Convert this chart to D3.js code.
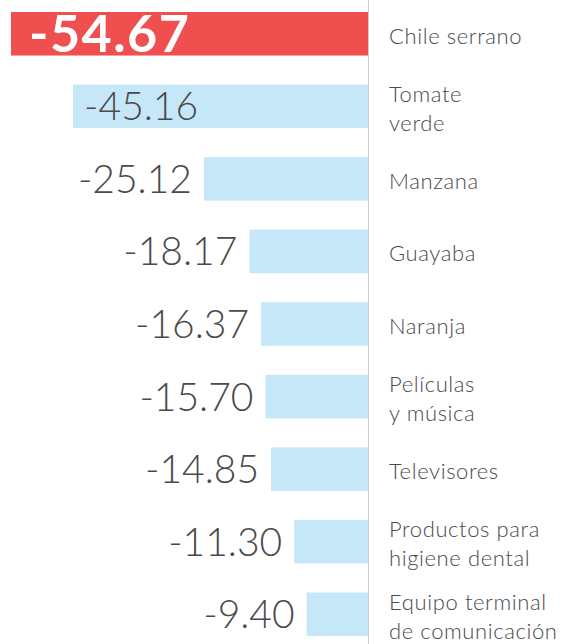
<!DOCTYPE html>
<html>
<head>
<meta charset="utf-8">
<script src="https://cdn.jsdelivr.net/npm/d3@7"></script>
<style>
  html, body { margin: 0; padding: 0; background: #fff; }
  svg { display: block; }
</style>
</head>
<body>
<svg id="chart"></svg>
<script>
// Productos con mayor baja de precio (variación %)
const categories = [
    'Chile serrano',
    'Tomate|verde',
    'Manzana',
    'Guayaba',
    'Naranja',
    'Películas|y música',
    'Televisores',
    'Productos para|higiene dental',
    'Equipo terminal|de comunicación'
];
const values = [-54.67, -45.16, -25.12, -18.17, -16.37, -15.70, -14.85, -11.30, -9.40];
const valueLabels = ['-54.67', '-45.16', '-25.12', '-18.17', '-16.37', '-15.70', '-14.85', '-11.30', '-9.40'];

const width = 567;
const height = 644;
const zeroX = 368;

const svg = d3.select('#chart')
    .attr('width', width)
    .attr('height', height);

const x = d3.scaleLinear()
    .domain([d3.min(values), 0])
    .range([11, zeroX]);

const y = d3.scaleBand()
    .domain(categories)
    .range([12, 636])
    .paddingInner(0.4)
    .paddingOuter(0);

const isTop = (d, i) => i === 0;
const labelInside = (d, i) => i === 1;

// bars
svg.append('g')
    .selectAll('rect')
    .data(values)
    .enter().append('rect')
    .attr('x', d => x(d))
    .attr('y', (d, i) => y(categories[i]))
    .attr('width', d => x(0) - x(d))
    .attr('height', y.bandwidth())
    .attr('fill', (d, i) => isTop(d, i) ? '#ef4f4f' : '#c6e7f8');

// zero line
svg.append('line')
    .attr('x1', zeroX + 0.5)
    .attr('x2', zeroX + 0.5)
    .attr('y1', 0)
    .attr('y2', height)
    .attr('stroke', '#cfcfcf')
    .attr('stroke-width', 1);

// value labels
svg.append('g')
    .selectAll('text')
    .data(values)
    .enter().append('text')
    .attr('x', (d, i) => isTop(d, i) ? 29 : labelInside(d, i) ? x(d) + 11 : x(d) - 12)
    .attr('y', (d, i) => y(categories[i]) + y.bandwidth() / 2)
    .attr('dy', '0.36em')
    .attr('text-anchor', (d, i) => (isTop(d, i) || labelInside(d, i)) ? 'start' : 'end')
    .style('font-family', 'Lato, "Open Sans", sans-serif')
    .style('font-weight', (d, i) => isTop(d, i) ? 700 : 300)
    .style('font-size', (d, i) => isTop(d, i) ? '52px' : '39px')
    .style('letter-spacing', (d, i) => isTop(d, i) ? '1.5px' : '0px')
    .style('fill', (d, i) => isTop(d, i) ? '#fff' : '#4a4a4a')
    .text((d, i) => valueLabels[i]);

// category labels
const catText = svg.append('g')
    .selectAll('text')
    .data(categories)
    .enter().append('text')
    .attr('x', 389)
    .attr('y', d => y(d) + y.bandwidth() / 2)
    .style('font-family', 'Lato, "Open Sans", sans-serif')
    .style('font-weight', 300)
    .style('font-size', '22px')
    .style('letter-spacing', '0.6px')
    .style('fill', '#4a4a4a');

catText.each(function(d) {
    const lines = d.split('|');
    const lh = 29;
    const start = -(lines.length - 1) * lh / 2;
    d3.select(this).selectAll('tspan')
        .data(lines)
        .enter().append('tspan')
        .attr('x', 389)
        .attr('dy', (l, j) => j === 0 ? (start + 10) + 'px' : lh + 'px')
        .text(l => l);
});
</script>
</body>
</html>
